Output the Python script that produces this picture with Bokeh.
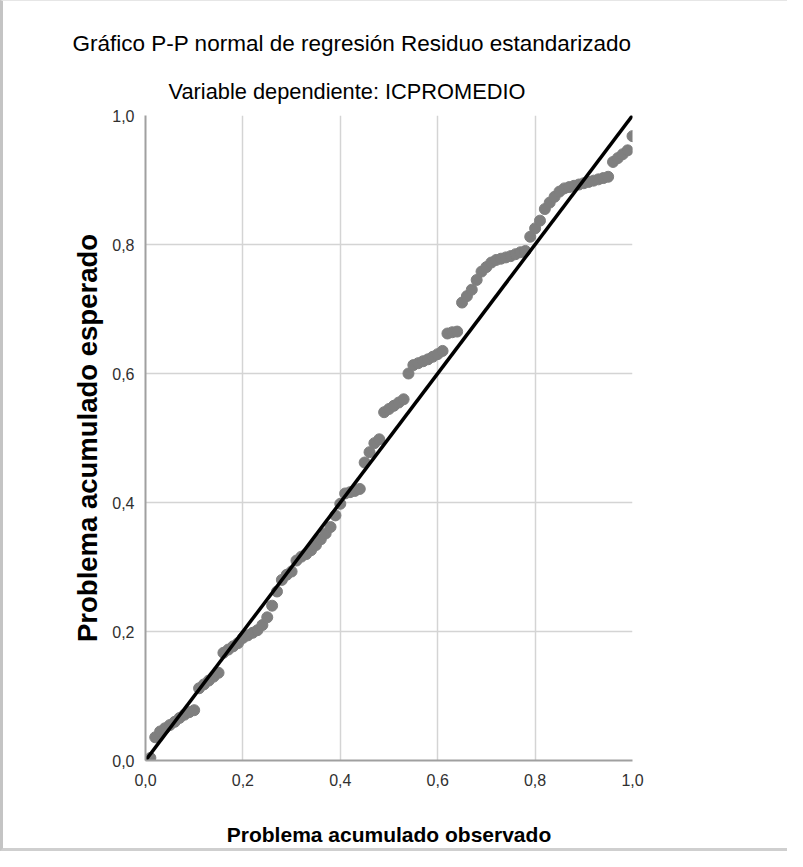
from bokeh.plotting import figure
from bokeh.models import FixedTicker, Title, ColumnDataSource
from bokeh.embed import file_html
from bokeh.resources import INLINE

# ---- data ----
obs = [0.01, 0.02, 0.03, 0.04, 0.05, 0.06, 0.07, 0.08, 0.09, 0.10,
       0.11, 0.12, 0.13, 0.14, 0.15, 0.16, 0.17, 0.18, 0.19, 0.20,
       0.21, 0.22, 0.23, 0.24, 0.25, 0.26, 0.27, 0.28, 0.29, 0.30,
       0.31, 0.32, 0.33, 0.34, 0.35, 0.36, 0.37, 0.38, 0.39, 0.40,
       0.41, 0.42, 0.43, 0.44, 0.45, 0.46, 0.47, 0.48, 0.49, 0.50,
       0.51, 0.52, 0.53, 0.54, 0.55, 0.56, 0.57, 0.58, 0.59, 0.60,
       0.61, 0.62, 0.63, 0.64, 0.65, 0.66, 0.67, 0.68, 0.69, 0.70,
       0.71, 0.72, 0.73, 0.74, 0.75, 0.76, 0.77, 0.78, 0.79, 0.80,
       0.81, 0.82, 0.83, 0.84, 0.85, 0.86, 0.87, 0.88, 0.89, 0.90,
       0.91, 0.92, 0.93, 0.94, 0.95, 0.96, 0.97, 0.98, 0.99, 1.00]
esp = [0.004, 0.036, 0.045, 0.050, 0.055, 0.060, 0.066, 0.071, 0.075, 0.078,
       0.112, 0.118, 0.124, 0.130, 0.136, 0.167, 0.172, 0.177, 0.182, 0.190,
       0.194, 0.198, 0.202, 0.210, 0.222, 0.240, 0.262, 0.280, 0.288, 0.293,
       0.310, 0.316, 0.320, 0.326, 0.334, 0.343, 0.352, 0.362, 0.380, 0.398,
       0.414, 0.416, 0.418, 0.421, 0.462, 0.478, 0.492, 0.498, 0.540, 0.545,
       0.550, 0.555, 0.560, 0.600, 0.613, 0.616, 0.619, 0.622, 0.626, 0.630,
       0.635, 0.662, 0.664, 0.665, 0.710, 0.720, 0.730, 0.745, 0.758, 0.765,
       0.772, 0.776, 0.778, 0.780, 0.782, 0.785, 0.788, 0.790, 0.812, 0.825,
       0.837, 0.855, 0.865, 0.874, 0.882, 0.887, 0.889, 0.891, 0.893, 0.895,
       0.897, 0.899, 0.901, 0.903, 0.905, 0.928, 0.934, 0.940, 0.946, 0.968]
ref_line = [0.0, 1.0]
tick_vals = [0.0, 0.2, 0.4, 0.6, 0.8, 1.0]
tick_labels = ["0,0", "0,2", "0,4", "0,6", "0,8", "1,0"]

title_text = "Gráfico P-P normal de regresión Residuo estandarizado"
subtitle_text = "Variable dependiente: ICPROMEDIO"
x_label = "Problema acumulado observado"
y_label = "Problema acumulado esperado"

FONT = "Liberation Sans"

p = figure(width=784, height=847, frame_width=487, frame_height=645,
           output_backend="svg", toolbar_location=None,
           x_range=(0, 1), y_range=(0, 1),
           min_border_left=142, min_border_right=155,
           min_border_top=114, min_border_bottom=88)
p.background_fill_color = "white"
p.border_fill_color = "white"
p.outline_line_color = None

src = ColumnDataSource(dict(x=obs, y=esp))
p.scatter("x", "y", source=src, size=11, color="#7f7f7f", alpha=1.0)
p.line(ref_line, ref_line, line_color="black", line_width=3.5)

for ax in (p.xaxis[0], p.yaxis[0]):
    ax.ticker = FixedTicker(ticks=tick_vals)
    ax.major_label_overrides = {v: s for v, s in zip(tick_vals, tick_labels)}
    ax.major_tick_line_color = None
    ax.minor_tick_line_color = None
    ax.axis_line_color = "#a0a0a0"
    ax.axis_line_width = 2
    ax.major_label_text_font = FONT
    ax.major_label_text_font_size = "16px"
    ax.major_label_text_color = "#303030"

p.xaxis.major_label_standoff = 7
p.yaxis.major_label_standoff = 5
p.xaxis.axis_label = x_label
p.yaxis.axis_label = y_label
p.xaxis.axis_label_text_font = FONT
p.xaxis.axis_label_text_font_style = "bold"
p.xaxis.axis_label_text_font_size = "21px"
p.xaxis.axis_label_standoff = 34
p.yaxis.axis_label_text_font = FONT
p.yaxis.axis_label_text_font_style = "bold"
p.yaxis.axis_label_text_font_size = "27.5px"
p.yaxis.axis_label_standoff = 6
p.xaxis.axis_label_text_color = "black"
p.yaxis.axis_label_text_color = "black"

p.xgrid.ticker = FixedTicker(ticks=tick_vals)
p.ygrid.ticker = FixedTicker(ticks=tick_vals)
p.grid.grid_line_color = "#d4d4d4"
p.grid.grid_line_width = 1.5

sub = Title(text=subtitle_text, align="left", offset=23,
            text_font=FONT, text_font_size="21.8px", text_font_style="normal",
            text_color="black", standoff=24)
main = Title(text=title_text, align="left", offset=-73,
             text_font=FONT, text_font_size="22.5px", text_font_style="normal",
             text_color="black", standoff=18)
p.add_layout(sub, "above")
p.add_layout(main, "above")

p.styles = {"border-left": "3px solid #c4c4c4", "border-top": "1px solid #e6e6e6",
            "border-bottom": "3px solid #cfcfcf", "box-sizing": "content-box"}

open("out.html", "w").write(file_html(p, INLINE))
